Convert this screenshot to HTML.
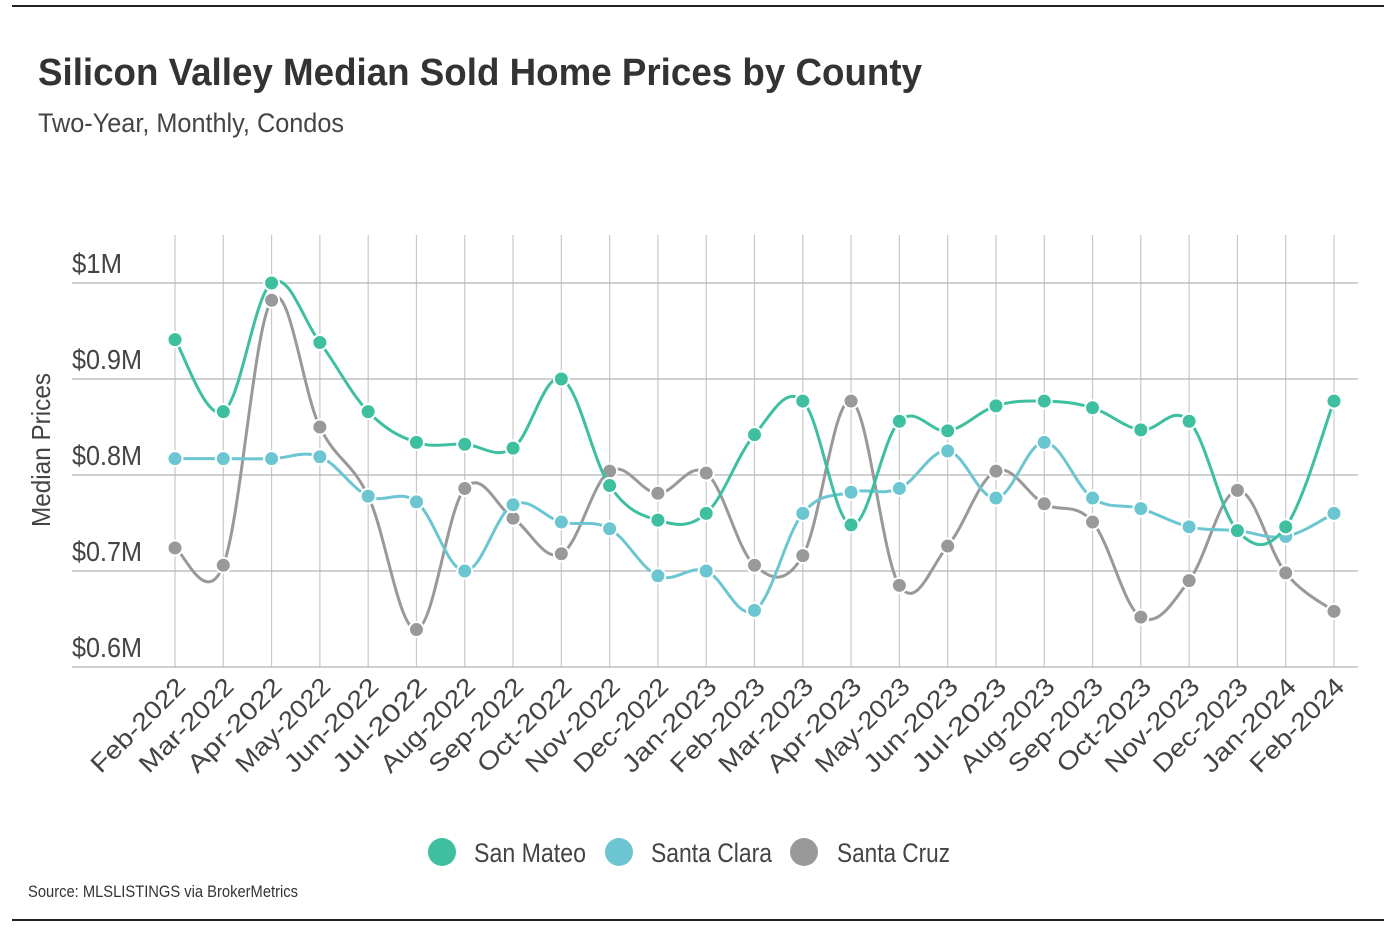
<!DOCTYPE html>
<html><head><meta charset="utf-8"><style>
html,body{margin:0;padding:0;background:#fff;}
svg{display:block;font-family:"Liberation Sans Narrow","Liberation Sans",sans-serif;}
</style></head><body>
<svg id="chart" width="1396" height="934" viewBox="0 0 1396 934">
<line x1="12" y1="6" x2="1384" y2="6" stroke="#222" stroke-width="2"/>
<line x1="12" y1="920" x2="1384" y2="920" stroke="#222" stroke-width="2"/>
<text x="38" y="85" font-size="38" font-weight="bold" fill="#333" textLength="884" lengthAdjust="spacingAndGlyphs">Silicon Valley Median Sold Home Prices by County</text>
<text x="38" y="132" font-size="27" fill="#444" textLength="306" lengthAdjust="spacingAndGlyphs">Two-Year, Monthly, Condos</text>
<text transform="translate(50,450) rotate(-90)" text-anchor="middle" font-size="26" fill="#444" textLength="154" lengthAdjust="spacingAndGlyphs">Median Prices</text>
<g id="grid"></g><g id="series"></g><g id="xlabels"></g>
<g>
<circle cx="442" cy="852" r="14" fill="#3dbfa0"/>
<text x="474" y="862" font-size="27" fill="#444" textLength="112" lengthAdjust="spacingAndGlyphs">San Mateo</text>
<circle cx="619" cy="852" r="14" fill="#6cc6d2"/>
<text x="651" y="862" font-size="27" fill="#444" textLength="121" lengthAdjust="spacingAndGlyphs">Santa Clara</text>
<circle cx="804" cy="852" r="14" fill="#999"/>
<text x="837" y="862" font-size="27" fill="#444" textLength="113" lengthAdjust="spacingAndGlyphs">Santa Cruz</text>
</g>
<text x="28" y="897" font-size="17" fill="#333" textLength="270" lengthAdjust="spacingAndGlyphs">Source:  MLSLISTINGS via BrokerMetrics</text>
</svg>
<script>
const categories=["Feb-2022","Mar-2022","Apr-2022","May-2022","Jun-2022","Jul-2022","Aug-2022","Sep-2022","Oct-2022","Nov-2022","Dec-2022","Jan-2023","Feb-2023","Mar-2023","Apr-2023","May-2023","Jun-2023","Jul-2023","Aug-2023","Sep-2023","Oct-2023","Nov-2023","Dec-2023","Jan-2024","Feb-2024"];
const sanMateo=[0.941,0.866,1.0,0.938,0.866,0.834,0.832,0.828,0.9,0.789,0.753,0.760,0.842,0.877,0.748,0.856,0.846,0.872,0.877,0.870,0.847,0.856,0.742,0.746,0.877];
const santaClara=[0.817,0.817,0.817,0.819,0.778,0.772,0.700,0.769,0.751,0.744,0.695,0.700,0.659,0.760,0.782,0.786,0.825,0.776,0.834,0.776,0.765,0.746,0.742,0.736,0.760];
const santaCruz=[0.724,0.706,0.982,0.850,0.778,0.639,0.786,0.755,0.718,0.804,0.781,0.802,0.706,0.716,0.877,0.685,0.726,0.804,0.770,0.751,0.652,0.690,0.784,0.698,0.658];
const yTicks=[0.6,0.7,0.8,0.9,1.0];
const yTickLabels=["$0.6M","$0.7M","$0.8M","$0.9M","$1M"];
const NS="http://www.w3.org/2000/svg";
function xs(i){return 175+i*(1334-175)/(categories.length-1);}
function ys(v){return 667-(v-0.6)*960;}
function mk(tag,attrs,parent){const e=document.createElementNS(NS,tag);for(const k in attrs)e.setAttribute(k,attrs[k]);parent.appendChild(e);return e;}
const grid=document.getElementById('grid');
categories.forEach((c,i)=>{
  const l=mk('line',{x1:xs(i),x2:xs(i),y1:235,y2:667,stroke:'#c8c8c8','stroke-width':1.2},grid);
  
  
});
yTicks.forEach((t,i)=>{
  const l=mk('line',{x1:72,x2:1358,y1:ys(t),y2:ys(t),stroke:'#b5b5b5','stroke-width':1.2},grid);
  
  
  const lab=yTickLabels[i];
  const tx=mk('text',{x:72,y:ys(t)-10,'font-size':28,fill:'#444',textLength:lab.length<4?50:70,lengthAdjust:'spacingAndGlyphs'},grid);
  tx.textContent=lab;
  
  
});
const xl=document.getElementById('xlabels');
categories.forEach((c,i)=>{
  const t=mk('text',{transform:`translate(${xs(i)+12},688) rotate(-45)`,'text-anchor':'end','font-size':25,fill:'#444',textLength:122,lengthAdjust:'spacingAndGlyphs'},xl);
  t.textContent=c;
  
  
});
function pathFor(vals){
  const p=vals.map((v,i)=>[xs(i),ys(v)]);
  let d=`M${p[0][0]},${p[0][1]}`;
  const k=0.18;
  for(let i=0;i<p.length-1;i++){
    const p0=p[i-1]||p[i],p1=p[i],p2=p[i+1],p3=p[i+2]||p2;
    const c1=[p1[0]+(p2[0]-p0[0])*k,p1[1]+(p2[1]-p0[1])*k];
    const c2=[p2[0]-(p3[0]-p1[0])*k,p2[1]-(p3[1]-p1[1])*k];
    d+=` C${c1[0]},${c1[1]} ${c2[0]},${c2[1]} ${p2[0]},${p2[1]}`;
  }
  return d;
}
const sg=document.getElementById('series');
[[santaCruz,'#999','santa-cruz'],[santaClara,'#6cc6d2','santa-clara'],[sanMateo,'#3dbfa0','san-mateo']].forEach(([vals,col,name])=>{
  const g=mk('g',{},sg);
  
  
  const pth=mk('path',{d:pathFor(vals),fill:'none',stroke:col,'stroke-width':3},g);
  
  
  vals.forEach((v,i)=>{
    const c=mk('circle',{cx:xs(i),cy:ys(v),r:7.5,fill:col,stroke:'#fff','stroke-width':2},g);
    
    
  });
});
</script>
</body></html>
